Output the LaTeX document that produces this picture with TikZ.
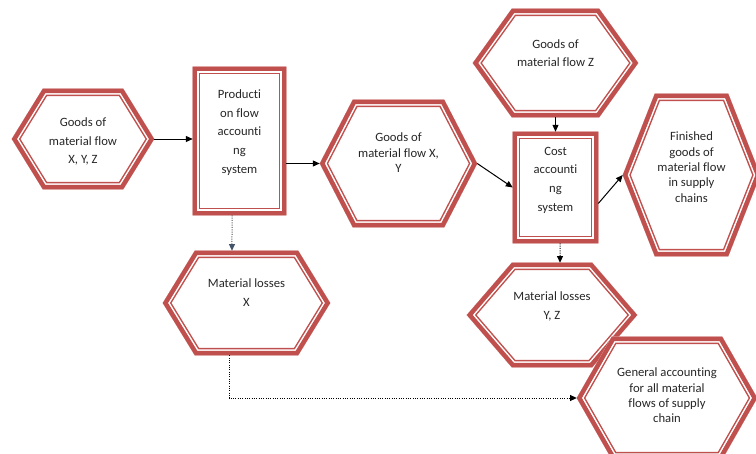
\documentclass[tikz,border=0pt]{standalone}
\usepackage{fontspec}
\setmainfont{Carlito}[Ligatures={NoCommon}]
\usetikzlibrary{arrows.meta}
\definecolor{hexred}{RGB}{192,80,77}
\definecolor{slate}{RGB}{68,84,106}
\definecolor{txtgray}{RGB}{38,38,38}
\def\px{0.75pt}
\tikzset{
	txt/.style={align=center, text=txtgray, inner sep=0pt},
	loose/.style={font=\fontsize{9.5}{14}\selectfont},
	tight/.style={font=\fontsize{9.5}{11.5}\selectfont},
	arr/.style={line width=0.75pt, -{Triangle[length=5.2pt,width=4.5pt]}},
	dotarr/.style={line width=0.75pt, densely dotted, -{Triangle[length=5pt,width=4.5pt]}}
}
% frame: name, centre : half width : half height : chamfer, text options, text
\def\hexframe(#1)(#2:#3:#4:#5)[#6]#7{%
	\node[minimum width={2*#3*\px}, minimum height={2*#4*\px}, inner sep=0pt] (#1) at (#2) {};
	\begin{scope}
		\clip (#1.west) -- ([xshift={#5*\px}]#1.north west) -- ([xshift={-#5*\px}]#1.north east) -- (#1.east) -- ([xshift={-#5*\px}]#1.south east) -- ([xshift={#5*\px}]#1.south west) -- cycle;
		\foreach \w/\c in {11.25pt/hexred, 9pt/white, 6.75pt/hexred}
			\draw[line width=\w, color=\c] (#1.west) -- ([xshift={#5*\px}]#1.north west) -- ([xshift={-#5*\px}]#1.north east) -- (#1.east) -- ([xshift={-#5*\px}]#1.south east) -- ([xshift={#5*\px}]#1.south west) -- cycle;
	\end{scope}
	\node[txt, #6] (#1 text) at (#1.center) {#7};}

\begin{document}
\begin{tikzpicture}[x=0.75pt, y=-0.75pt]
			%%%%% START %%%%%
			\useasboundingbox (0,0) rectangle (756,453);
			\clip (0,0) rectangle (756,453);
			
			\hexframe(goodsXYZ)(83,139:71:50:31)[loose, yshift=-2pt]{Goods of\\material flow\\X, Y, Z}
			\hexframe(prodacc)(239.5,141:46.5:74:0)[loose, yshift=6.4pt]{Producti\\on flow\\accounti\\ng\\system}
			\hexframe(goodsXY)(398.5,163.5:78.5:63.5:33)[tight, yshift=8pt]{Goods of\\material flow X,\\Y}
			\hexframe(goodsZ)(555.5,63:82.5:54:39)[loose, yshift=7.5pt]{Goods of\\material flow Z}
			\hexframe(costacc)(555.5,187.5:42.5:55.5:0)[loose, yshift=5.6pt]{Cost\\accounti\\ng\\system}
			\hexframe(finished)(691.5,175:68.5:81:32)[tight, yshift=6pt]{Finished\\goods of\\material flow\\in supply\\chains}
			
			\hexframe(lossX)(246.5,303:83.5:52:32)[loose, yshift=8pt]{Material losses\\X}
			\hexframe(lossYZ)(552,315:85:52:45)[loose, yshift=6.4pt]{Material losses\\Y, Z}
			\hexframe(general)(667,398:90:61:35)[tight, yshift=2pt]{General accounting\\for all material\\flows of supply\\chain}
			
			\draw[arr] (goodsXYZ.east) -- (goodsXYZ.east -| prodacc.west);
			\draw[arr] (prodacc.east |- goodsXY.west) -- (goodsXY.west);
			\draw[arr] (goodsXY.east) -- (costacc.west);
			\draw[arr] (goodsZ.south) -- (costacc.north);
			\draw[arr] ([yshift=-12pt]costacc.east) -- (finished.west);
			
			\draw[dotarr, -{Triangle[length=5pt,width=4.5pt,color=slate]}, black!70] ([xshift=-5.6pt]prodacc.south) -- ([xshift=-10.9pt]lossX.north);
			\draw[dotarr] ([xshift=3.4pt]costacc.south) -- ([xshift=6pt]lossYZ.north);
			\draw[dotarr] ([xshift=-13.1pt]lossX.south) |- (general.west);
			
			%%%%% END %%%%%
\end{tikzpicture}
\end{document}
